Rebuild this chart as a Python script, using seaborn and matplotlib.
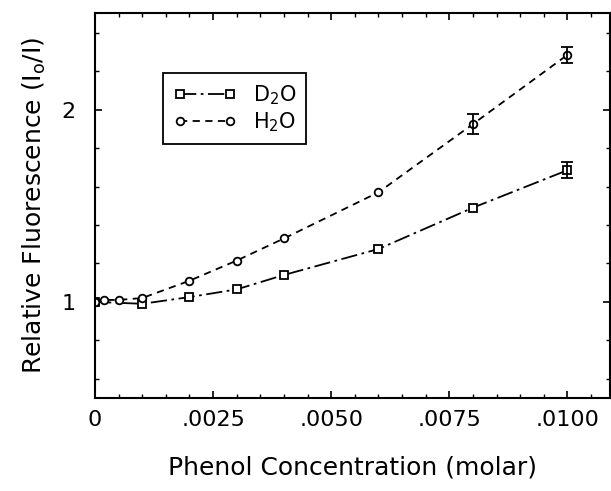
import numpy as np
import pandas as pd
import matplotlib
matplotlib.use("Agg")
import matplotlib.pyplot as plt
from matplotlib.ticker import MultipleLocator, FixedLocator
import seaborn as sns

# Data
conc_h2o = [0.0, 0.0002, 0.0005, 0.001, 0.002, 0.003, 0.004, 0.006, 0.008, 0.010]
rel_h2o = [1.00, 1.01, 1.01, 1.02, 1.11, 1.215, 1.33, 1.57, 1.925, 2.285]
conc_d2o = [0.0, 0.001, 0.002, 0.003, 0.004, 0.006, 0.008, 0.010]
rel_d2o = [1.00, 0.99, 1.025, 1.065, 1.14, 1.275, 1.49, 1.685]

# error bars only on the last points
err_x_h2o = [0.008, 0.010]
err_y_h2o = [1.925, 2.285]
err_h2o = [0.05, 0.04]
err_x_d2o = [0.010]
err_y_d2o = [1.685]
err_d2o = [0.043]

solvents = ["D$_2$O", "H$_2$O"]

df = pd.concat([
    pd.DataFrame({"conc": conc_d2o, "rel": rel_d2o, "solvent": solvents[0]}),
    pd.DataFrame({"conc": conc_h2o, "rel": rel_h2o, "solvent": solvents[1]}),
])

sns.set_theme(style="ticks")
plt.rcParams["font.family"] = ["DejaVu Sans"]
plt.rcParams["mathtext.default"] = "regular"
plt.rcParams["text.color"] = "black"
plt.rcParams["axes.labelcolor"] = "black"

fig = plt.figure(figsize=(6.11, 4.91), dpi=100)
ax = fig.add_axes([95 / 611, 1 - 398 / 491, 515 / 611, 384.5 / 491])

sns.lineplot(
    data=df, x="conc", y="rel", hue="solvent", style="solvent",
    palette={solvents[0]: "black", solvents[1]: "black"},
    dashes={solvents[0]: (9, 2.5, 1.5, 2.5), solvents[1]: (4, 3)},
    markers={solvents[0]: "s", solvents[1]: "o"},
    markersize=5.5, markerfacecolor="white", markeredgecolor="black",
    markeredgewidth=1.3, linewidth=1.3, sort=False, ax=ax,
)

ax.errorbar(err_x_h2o, err_y_h2o, yerr=err_h2o, fmt="none", ecolor="black",
            elinewidth=1.3, capsize=4, capthick=1.3)
ax.errorbar(err_x_d2o, err_y_d2o, yerr=err_d2o, fmt="none", ecolor="black",
            elinewidth=1.3, capsize=4, capthick=1.3)

ax.set_xlim(0, 0.0109)
ax.set_ylim(0.5, 2.5)

ax.xaxis.set_major_locator(FixedLocator([0, 0.0025, 0.005, 0.0075, 0.01]))
ax.xaxis.set_minor_locator(MultipleLocator(0.0005))
ax.set_xticklabels(["0", ".0025", ".0050", ".0075", ".0100"])
ax.yaxis.set_major_locator(FixedLocator([1, 2]))
ax.yaxis.set_minor_locator(MultipleLocator(0.2))
ax.set_yticklabels(["1", "2"])

ax.tick_params(which="both", direction="in", top=True, right=True,
               colors="black", labelsize=16)
ax.tick_params(which="major", length=5, width=1.2)
ax.tick_params(which="minor", length=3, width=1.0)
ax.tick_params(axis="x", which="major", pad=9)
ax.tick_params(axis="y", which="major", pad=14)

for sp in ax.spines.values():
    sp.set_linewidth(1.5)
    sp.set_color("black")

ax.set_xlabel("Phenol Concentration (molar)", fontsize=18, labelpad=18)
ax.set_ylabel("Relative Fluorescence (I$_o$/I)", fontsize=18, labelpad=10)

handles, labels = ax.get_legend_handles_labels()
leg = ax.legend(handles, labels, loc="upper left", bbox_to_anchor=(0.132, 0.845),
                borderaxespad=0, numpoints=2, fontsize=15, frameon=True,
                fancybox=False, edgecolor="black", framealpha=1,
                handlelength=3.0, handletextpad=0.8, borderpad=0.5,
                labelspacing=0.15)
leg.get_frame().set_linewidth(1.3)

fig.savefig("out.png", dpi=100)
